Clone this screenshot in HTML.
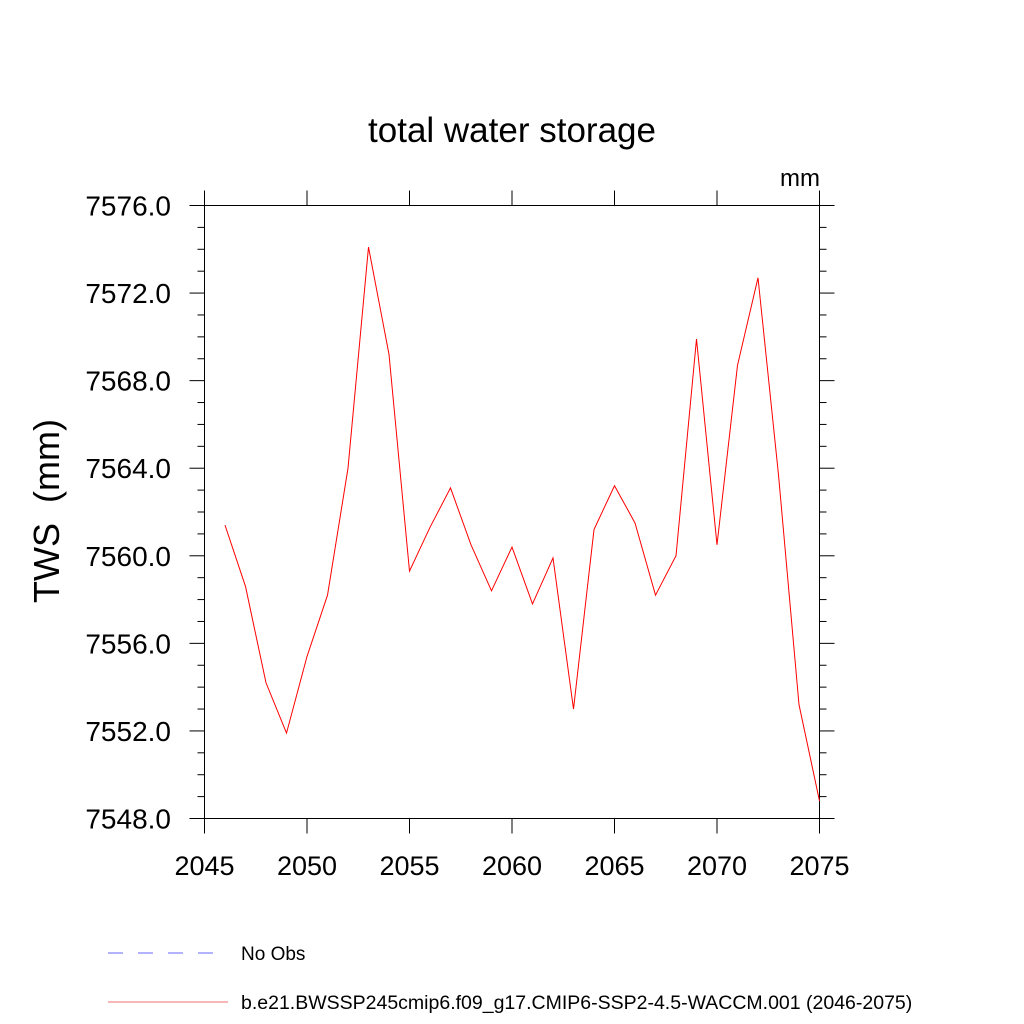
<!DOCTYPE html>
<html><head><meta charset="utf-8"><style>
body{margin:0;background:#fff;}
svg{display:block;font-family:"Liberation Sans",sans-serif;}
</style></head><body>
<svg id="chart" width="1024" height="1024">
<text x="512" y="142" text-anchor="middle" font-size="35">total water storage</text>
<text x="820" y="186" text-anchor="end" font-size="24">mm</text>
<text transform="translate(59,511) rotate(-90)" text-anchor="middle" font-size="36" xml:space="preserve">TWS  (mm)</text>
<rect x="204.5" y="205.5" width="615" height="613" fill="none" stroke="#000" stroke-width="1"/>
<g id="axes"></g>
<path id="series" fill="none" stroke="#ff0000" stroke-width="1"/>
<line x1="108" y1="953" x2="215" y2="953" stroke="#6666ff" stroke-dasharray="15,15"/>
<text x="241" y="960" font-size="19">No Obs</text>
<line x1="108" y1="1002" x2="228" y2="1002" stroke="#f07070"/>
<text x="241" y="1009" font-size="19.5">b.e21.BWSSP245cmip6.f09_g17.CMIP6-SSP2-4.5-WACCM.001 (2046-2075)</text>
</svg>
<script>
const years=[2046,2047,2048,2049,2050,2051,2052,2053,2054,2055,2056,2057,2058,2059,2060,2061,2062,2063,2064,2065,2066,2067,2068,2069,2070,2071,2072,2073,2074,2075];
const values=[7561.4,7558.6,7554.2,7551.9,7555.4,7558.2,7564.0,7574.1,7569.2,7559.3,7561.3,7563.1,7560.5,7558.4,7560.4,7557.8,7559.9,7553.0,7561.2,7563.2,7561.5,7558.2,7560.0,7569.9,7560.5,7568.7,7572.7,7563.7,7553.2,7548.8];
const xTicks=[2045,2050,2055,2060,2065,2070,2075];
const yTicks=[7548,7552,7556,7560,7564,7568,7572,7576];
const X0=204.5,X1=819.5,Y0=818.5,Y1=205.5,xmin=2045,xmax=2075,ymin=7548,ymax=7576;
const xs=v=>X0+(v-xmin)/(xmax-xmin)*(X1-X0);
const ys=v=>Y0-(v-ymin)/(ymax-ymin)*(Y0-Y1);
const NS='http://www.w3.org/2000/svg';
const g=document.getElementById('axes');
function ln(x1,y1,x2,y2,name){const l=document.createElementNS(NS,'line');l.setAttribute('x1',x1);l.setAttribute('y1',y1);l.setAttribute('x2',x2);l.setAttribute('y2',y2);l.setAttribute('stroke','#000');


g.appendChild(l);}
function tx(x,y,s,anchor,size,name){const t=document.createElementNS(NS,'text');t.setAttribute('x',x);t.setAttribute('y',y);t.setAttribute('text-anchor',anchor);t.setAttribute('font-size',size);t.textContent=s;


g.appendChild(t);}
xTicks.forEach(v=>{const x=xs(v);ln(x,Y0,x,Y0+15,'x-tick');ln(x,Y1,x,Y1-15,'x-tick-top');});
for(let v=ymin;v<=ymax;v++){const y=ys(v);const L=(v%4===0)?15:7;ln(X0,y,X0-L,y,'y-tick');ln(X1,y,X1+L,y,'y-tick-right');}
xTicks.forEach(v=>tx(xs(v),875,String(v),'middle',27,'x-tick-label'));
yTicks.forEach(v=>tx(171,ys(v)+10,v.toFixed(1),'end',28,'y-tick-label'));
document.getElementById('series').setAttribute('d',years.map((y,i)=>(i?'L':'M')+xs(y)+','+ys(values[i])).join(' '));
</script>
</body></html>
